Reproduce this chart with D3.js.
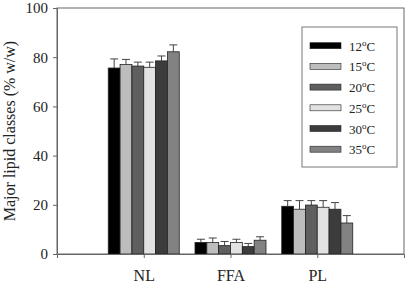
<!DOCTYPE html>
<html>
<head>
<meta charset="utf-8">
<script src="https://cdn.jsdelivr.net/npm/d3@7"></script>
<style>
  body { margin: 0; background: #fff; }
  text { font-family: "Liberation Serif", "Times New Roman", serif; fill: #222; }
</style>
</head>
<body>
<svg id="chart"></svg>
<script>
const classes = ["NL", "FFA", "PL"];
const temps = ["12", "15", "20", "25", "30", "35"];
// mean values per temperature, in order NL, FFA, PL
const means = {
  "12": [75.6, 4.7, 19.4],
  "15": [77.0, 4.7, 18.2],
  "20": [76.4, 3.4, 19.9],
  "25": [75.9, 4.7, 19.0],
  "30": [78.5, 3.0, 18.2],
  "35": [82.2, 5.6, 12.6]
};
const errors = {
  "12": [3.7, 1.3, 2.3],
  "15": [2.1, 1.8, 3.5],
  "20": [1.6, 1.7, 1.8],
  "25": [2.1, 1.3, 2.7],
  "30": [2.0, 1.3, 2.7],
  "35": [2.8, 1.4, 3.0]
};
const yTicks = [0, 20, 40, 60, 80, 100];
const colors = ["#000000", "#bdbdbd", "#5f5f5f", "#e2e2e2", "#3c3c3c", "#828282"];

const width = 409, height = 290;
const margin = {top: 8, right: 5, bottom: 36, left: 57};

const svg = d3.select("#chart").attr("width", width).attr("height", height);

const x = d3.scalePoint().domain(classes).range([margin.left, width - margin.right]).padding(1);
const y = d3.scaleLinear().domain([0, 100]).range([height - margin.bottom, margin.top]);
const groupWidth = 71;
const xi = d3.scaleBand().domain(temps).range([-groupWidth / 2, groupWidth / 2]).padding(0);
const color = d3.scaleOrdinal().domain(temps).range(colors);

const rows = [];
temps.forEach(t => classes.forEach((c, i) => rows.push({t: t, c: c, v: means[t][i], e: errors[t][i]})));

// frame
svg.append("rect")
  .attr("x", margin.left).attr("y", margin.top)
  .attr("width", width - margin.right - margin.left)
  .attr("height", y(0) - margin.top)
  .attr("fill", "none").attr("stroke", "#666").attr("stroke-width", 1);

// error bars (upper only)
const eb = svg.append("g").attr("stroke", "#444").attr("stroke-width", 1);
eb.selectAll("line.v").data(rows).enter().append("line")
  .attr("x1", d => x(d.c) + xi(d.t) + xi.bandwidth() / 2)
  .attr("x2", d => x(d.c) + xi(d.t) + xi.bandwidth() / 2)
  .attr("y1", d => y(d.v)).attr("y2", d => y(d.v + d.e));
eb.selectAll("line.c").data(rows).enter().append("line")
  .attr("x1", d => x(d.c) + xi(d.t) + xi.bandwidth() / 2 - 4)
  .attr("x2", d => x(d.c) + xi(d.t) + xi.bandwidth() / 2 + 4)
  .attr("y1", d => y(d.v + d.e)).attr("y2", d => y(d.v + d.e));

svg.append("g")
  .selectAll("rect").data(rows).enter().append("rect")
  .attr("x", d => x(d.c) + xi(d.t))
  .attr("y", d => y(d.v))
  .attr("width", xi.bandwidth())
  .attr("height", d => y(0) - y(d.v))
  .attr("fill", d => color(d.t))
  .attr("stroke", "#222").attr("stroke-width", 0.8);

// axes
const yAxis = svg.append("g")
  .attr("transform", `translate(${margin.left},0)`)
  .call(d3.axisLeft(y).tickValues(yTicks).tickSize(4).tickPadding(5));
yAxis.selectAll("text").style("font-size", "15px");

const xAxis = svg.append("g")
  .attr("transform", `translate(0,${y(0)})`)
  .call(d3.axisBottom(x).tickSize(4).tickPadding(12));
xAxis.selectAll("text").style("font-size", "16px");
[yAxis, xAxis].forEach(a => {
  a.select(".domain").attr("stroke", "#666");
  a.selectAll(".tick line").attr("stroke", "#666");
});

svg.append("text")
  .attr("transform", `translate(15,${(margin.top + y(0)) / 2}) rotate(-90)`)
  .attr("text-anchor", "middle")
  .style("font-size", "16px")
  .text("Major lipid classes (% w/w)");

// legend
const legend = svg.append("g").attr("transform", "translate(302,27)");
legend.append("rect").attr("width", 95).attr("height", 140)
  .attr("fill", "#fff").attr("stroke", "#777");
const item = legend.selectAll("g.item").data(temps).enter().append("g")
  .attr("transform", (d, i) => `translate(8,${18.7 + i * 20.7})`);
item.append("rect").attr("x", 0).attr("y", -3).attr("width", 31).attr("height", 6)
  .attr("fill", d => color(d)).attr("stroke", "#222").attr("stroke-width", 0.6);
const lt = item.append("text").attr("x", 39).attr("y", 5).style("font-size", "13px");
lt.append("tspan").text(d => d);
lt.append("tspan").attr("dy", -5).style("font-size", "9px").text("o");
lt.append("tspan").attr("dy", 5).text("C");
</script>
</body>
</html>
